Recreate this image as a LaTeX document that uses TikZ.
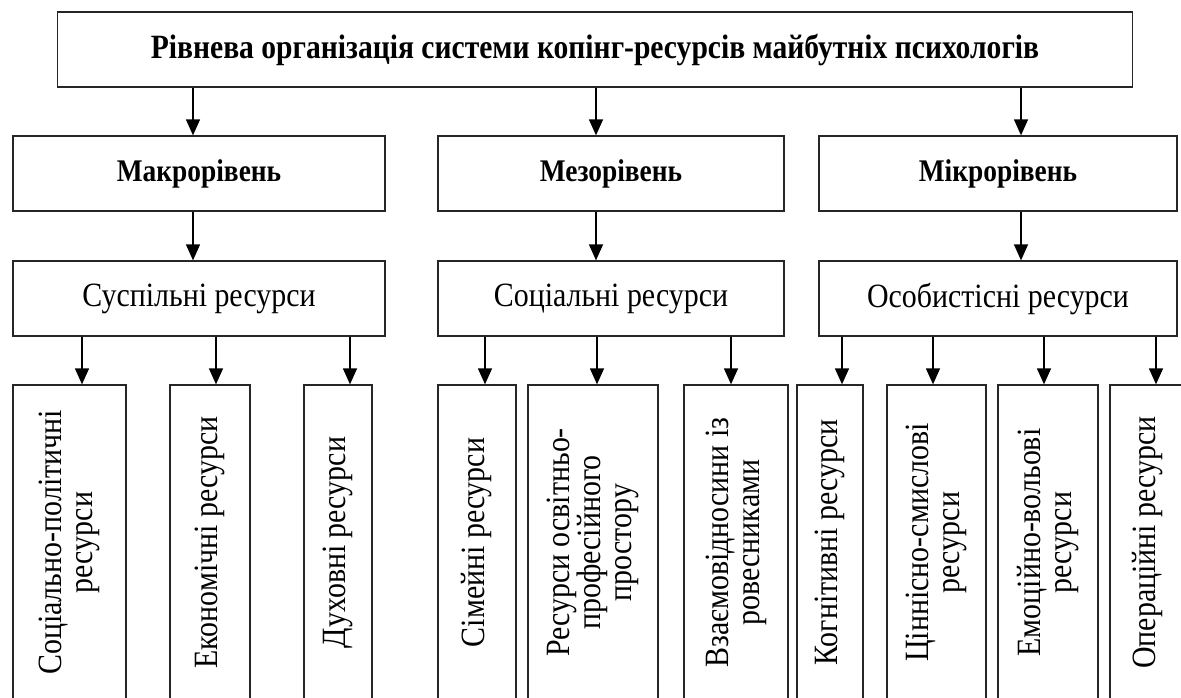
\documentclass[tikz,border=0pt]{standalone}
\usepackage{fontspec}
\newfontfamily\regfont{Liberation Serif}[FakeStretch=0.88]
\newfontfamily\headfont{Liberation Serif}[FakeStretch=0.87]
\usetikzlibrary{arrows.meta, positioning}
\newcommand{\boxcolor}{black!85}

\begin{document}
\begin{tikzpicture}[x=1pt, y=-1pt,
	box/.style={draw=\boxcolor, line width=1.3pt, inner sep=0, minimum height=75},
	head/.style={box, font=\headfont\bfseries\fontsize{31.5}{36}\selectfont},
	res/.style={box, font=\regfont\fontsize{34}{38}\selectfont},
	leaf/.style={draw=\boxcolor, line width=1.3pt, inner sep=0, rotate=90, minimum width=315, align=center, font=\regfont\fontsize{34}{31}\selectfont},
	arr/.style={line width=1.3pt, -{Triangle[length=16pt, width=14pt]}}]
	\useasboundingbox (0,0) rectangle (1181,697);

	% top
	\node[head, minimum width=1075, font=\headfont\bfseries\fontsize{34}{38}\selectfont] (top) at (595,49.5) {Рівнева організація системи копінг-ресурсів майбутніх психологів};

	% levels
	\node[head, minimum width=372] (makro) at (199,173.5) {Макрорівень};
	\node[head, minimum width=346] (mezo) at (611,173.5) {Мезорівень};
	\node[head, minimum width=358] (mikro) at (998,173.5) {Мікрорівень};

	% resources
	\node[res, minimum width=372] (sus) at (199,298.5) {Суспільні ресурси};
	\node[res, minimum width=346] (soc) at (611,298.5) {Соціальні ресурси};
	\node[res, minimum width=358] (osob) at (998,298.5) {Особистісні ресурси};

	% leaves
	\node[leaf, minimum height=113] (sp) at (69.5,542.5) {Соціально-політичні\\ресурси};
	\node[leaf, minimum height=80] (ek) at (210,542.5) {Економічні ресурси};
	\node[leaf, minimum height=68] (dukh) at (338,542.5) {Духовні ресурси};
	\node[leaf, minimum height=78] (sim) at (477,542.5) {Сімейні ресурси};
	\node[leaf, minimum height=130] (osv) at (593,542.5) {Ресурси освітньо-\\професійного\\простору};
	\node[leaf, minimum height=104] (vz) at (736,542.5) {Взаємовідносини із\\ровесниками};
	\node[leaf, minimum height=66] (kog) at (830,542.5) {Когнітивні ресурси};
	\node[leaf, minimum height=99] (tsin) at (936.5,542.5) {Ціннісно-смислові\\ресурси};
	\node[leaf, minimum height=100] (emo) at (1048,542.5) {Емоційно-вольові\\ресурси};
	\node[leaf, minimum height=76] (oper) at (1148,542.5) {Операційні ресурси};

	% arrows
	\draw[arr] (top.south -| 193,0) -- (makro.north -| 193,0);
	\draw[arr] (top.south -| 596,0) -- (mezo.north -| 596,0);
	\draw[arr] (top.south -| 1021,0) -- (mikro.north -| 1021,0);

	\draw[arr] (makro.south -| 193,0) -- (sus.north -| 193,0);
	\draw[arr] (mezo.south -| 596,0) -- (soc.north -| 596,0);
	\draw[arr] (mikro.south -| 1021,0) -- (osob.north -| 1021,0);

	\draw[arr] (sus.south -| 82,0) -- (sp.east -| 82,0);
	\draw[arr] (sus.south -| 216,0) -- (ek.east -| 216,0);
	\draw[arr] (sus.south -| 350,0) -- (dukh.east -| 350,0);
	\draw[arr] (soc.south -| 485,0) -- (sim.east -| 485,0);
	\draw[arr] (soc.south -| 597,0) -- (osv.east -| 597,0);
	\draw[arr] (soc.south -| 731,0) -- (vz.east -| 731,0);
	\draw[arr] (osob.south -| 842,0) -- (kog.east -| 842,0);
	\draw[arr] (osob.south -| 933,0) -- (tsin.east -| 933,0);
	\draw[arr] (osob.south -| 1044,0) -- (emo.east -| 1044,0);
	\draw[arr] (osob.south -| 1156,0) -- (oper.east -| 1156,0);
\end{tikzpicture}
\end{document}
